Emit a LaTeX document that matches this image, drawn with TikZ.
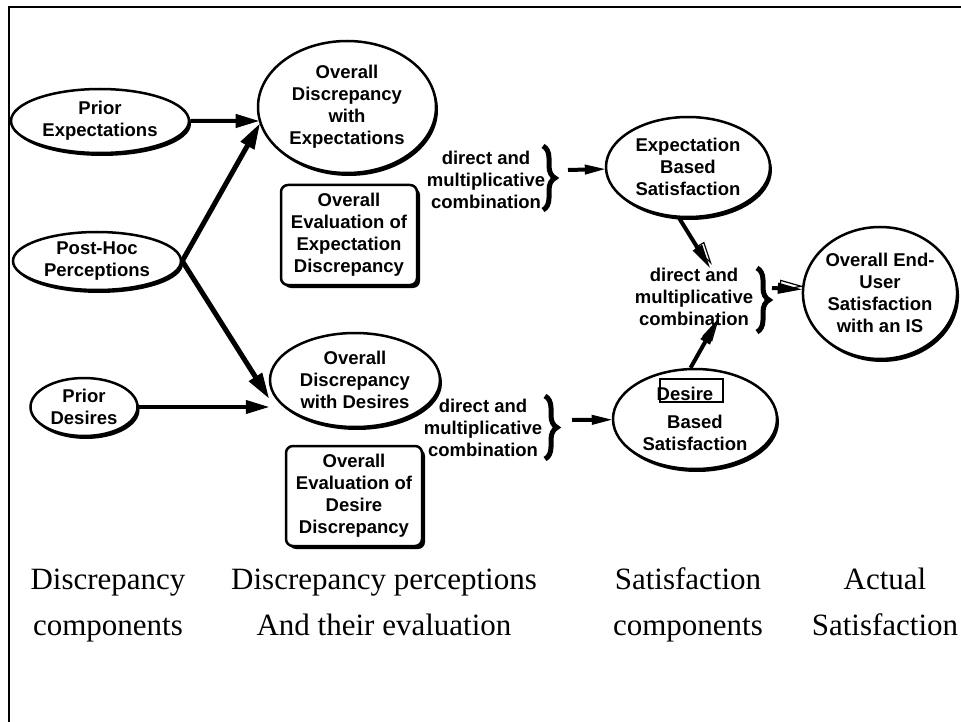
\documentclass[tikz,border=0pt]{standalone}
\usepackage{fontspec}
\setmainfont{Liberation Serif}
\newfontfamily\boxfont{Liberation Sans}
\usetikzlibrary{arrows.meta,shapes.geometric,shadows,decorations.pathreplacing,calc}

\tikzset{
  oval/.style={ellipse, draw, line width=2.5pt, fill=white, inner sep=0pt, align=center,
    font=\boxfont\bfseries\fontsize{18.5}{22}\selectfont,
    drop shadow={shadow xshift=2pt, shadow yshift=-3pt, opacity=1, fill=black}},
  evalbox/.style={rectangle, rounded corners=7pt, draw, line width=2.5pt, fill=white, inner sep=0pt,
    align=center, minimum width=136pt, minimum height=100pt,
    font=\boxfont\bfseries\fontsize{18.5}{22}\selectfont,
    drop shadow={shadow xshift=3pt, shadow yshift=-3pt, opacity=1, fill=black}},
  combtext/.style={inner sep=0pt, align=center, font=\boxfont\bfseries\fontsize{18.5}{22}\selectfont},
  bracket/.style={decorate, decoration={brace, amplitude=12pt}, line width=5pt},
  bigarrow/.style={line width=5pt, -{Triangle[length=25pt,width=16pt,line width=1pt]}},
  midarrow/.style={line width=4pt, -{Triangle[length=23pt,width=14pt,line width=1pt]}},
  shortarrow/.style={line width=4pt, -{Triangle[length=20pt,width=10pt,line width=1pt]}},
  hollowarrow/.style={line width=4pt, -{Triangle[length=24pt,width=11pt,line width=1pt]}},
  ghost/.style={draw=white, line width=0.5pt, shorten <=10pt,
    -{Triangle[length=24pt,width=11pt,color=black,fill=white,line width=1.2pt]}},
  columnlabel/.style={align=center, font=\fontsize{31}{46}\selectfont}
}

\begin{document}
\begin{tikzpicture}[x=1pt,y=-1pt]
\useasboundingbox (0,0) rectangle (961,722);

% frame
\draw[line width=2.5pt] (961,7) -- (9,7) -- (9,722);

% discrepancy components
\node[oval, minimum width=178pt, minimum height=64pt] (prexp) at (100,121) {Prior\\Expectations};
\node[oval, minimum width=168pt, minimum height=58pt] (posthoc) at (97,261) {Post-Hoc\\Perceptions};
\node[oval, minimum width=107pt, minimum height=58pt] (prdes) at (84,407) {Prior\\Desires};

% discrepancy perceptions and their evaluation
\node[oval, minimum width=178pt, minimum height=132pt] (discexp) at (347,107) {Overall\\Discrepancy\\with\\Expectations};
\node[oval, minimum width=170pt, minimum height=94pt] (discdes) at (355,380) {Overall\\Discrepancy\\with Desires};
\node[evalbox] (evalexp) at (349,235) {Overall\\Evaluation of\\Expectation\\Discrepancy};
\node[evalbox] (evaldes) at (354,496) {Overall\\Evaluation of\\Desire\\Discrepancy};

% combinations
\node[combtext] (comb1) at (486,180) {direct and\\multiplicative\\combination};
\node[combtext] (comb2) at (694,297) {direct and\\multiplicative\\combination};
\node[combtext] (comb3) at (483,428) {direct and\\multiplicative\\combination};

% satisfaction
\node[oval, minimum width=164pt, minimum height=100pt] (expsat) at (688,167) {Expectation\\Based\\Satisfaction};
\node[oval, minimum width=164pt, minimum height=100pt] (dessat) at (695,419) {\hspace*{-20pt}Desire\\[6pt]Based\\Satisfaction};
\draw[line width=1.5pt] ($(dessat)+(-35,-40)$) rectangle ($(dessat)+(28,-17)$);
\node[oval, minimum width=150pt, minimum height=132pt] (overall) at (880,293) {Overall End-\\User\\Satisfaction\\with an IS};

% arrows into the discrepancies
\draw[midarrow] (prexp) -- (discexp.189);
\draw[bigarrow] (posthoc.east) -- (discexp.191);
\draw[bigarrow] (posthoc.east) -- ([yshift=-18pt]discdes.west);
\draw[midarrow] (prdes) -- (prdes -| discdes.west);

% braces
\draw[bracket] (543,146) -- (543,210);
\draw[bracket] (757,268) -- (757,332);
\draw[bracket] (545,396) -- (545,459);
\coordinate (tip1) at (568,170);
\coordinate (tip2) at (772,288);
\coordinate (tip3) at (572,420);

\draw[shortarrow] (tip1) -- (expsat);
\draw[shortarrow] (tip3) -- (dessat);

\draw[ghost, transform canvas={shift={(2pt,3pt)}}] (expsat.260) -- ([xshift=16pt]comb2.north);
\draw[hollowarrow] (expsat.260) -- ([xshift=16pt]comb2.north);
\draw[ghost, transform canvas={shift={(2pt,3pt)}}] (dessat.95) -- ([xshift=23pt,yshift=5pt]comb2.south);
\draw[hollowarrow] (dessat.95) -- ([xshift=23pt,yshift=5pt]comb2.south);
\draw[ghost, transform canvas={shift={(2pt,3pt)}}] (tip2) -- (overall);
\draw[hollowarrow] (tip2) -- (overall);

% column labels
\node[columnlabel] (col1) at (108,603) {\strut Discrepancy\\\strut components};
\node[columnlabel] (col2) at (384,603) {\strut Discrepancy perceptions\\\strut And their evaluation};
\node[columnlabel] (col3) at (688,603) {\strut Satisfaction\\\strut components};
\node[columnlabel] (col4) at (885,603) {\strut Actual\\\strut Satisfaction};
\end{tikzpicture}
\end{document}
